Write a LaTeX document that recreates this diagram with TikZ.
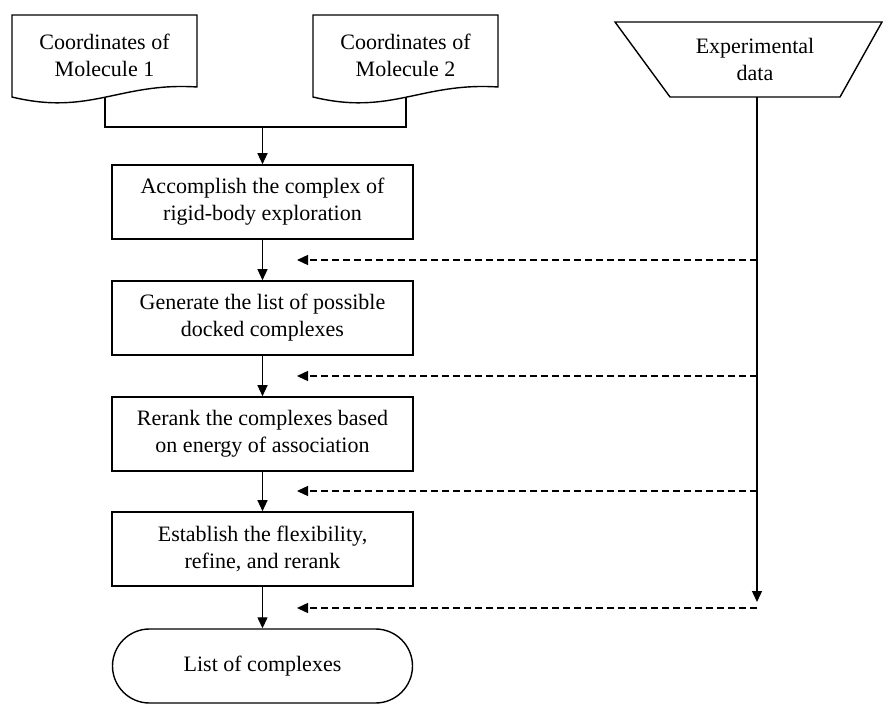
\documentclass[tikz,border=0pt]{standalone}
\usepackage{fontspec}
\setmainfont{Liberation Serif}
\usetikzlibrary{arrows.meta}
\begin{document}
\begin{tikzpicture}[x=1pt,y=-1pt,
  every node/.style={font=\fontsize{22}{27}\selectfont, align=center},
  proc/.style={draw, line width=1.6pt, minimum width=301pt, minimum height=74pt, inner sep=0pt},
  term/.style={draw, line width=1.4pt, rounded corners=37pt, minimum width=300pt, minimum height=74pt, inner sep=0pt},
  lbl/.style={inner sep=0pt},
  shp/.style={draw, line width=1.4pt},
  line/.style={line width=1.3pt},
  arr/.style={line width=1.3pt, -{Triangle[length=11pt,width=10pt]}},
  darr/.style={line width=1.3pt, dash pattern=on 7pt off 4pt, -{Triangle[length=11pt,width=10pt]}},
]
\useasboundingbox (0,0) rectangle (883,706);

% documents
\draw[shp] (12,15) -- (197,15) -- (197,87) .. controls (120,82) and (90,116) .. (12,97) -- cycle;
\node[lbl] (m1) at (104.5,55) {Coordinates of\\Molecule 1};
\draw[shp] (313,15) -- (498,15) -- (498,87) .. controls (421,82) and (391,116) .. (313,97) -- cycle;
\node[lbl] (m2) at (405.5,55) {Coordinates of\\Molecule 2};

% manual input
\draw[shp] (615,22) -- (882,22) -- (840,97) -- (670,97) -- cycle;
\node[lbl] (exp) at (755,59) {Experimental\\data};

% process boxes
\node[proc] (b1) at (262.5,202) {Accomplish the complex of\\rigid-body exploration};
\node[proc] (b2) at (262.5,318) {Generate the list of possible\\docked complexes};
\node[proc] (b3) at (262.5,434) {Rerank the complexes  based\\on energy of association};
\node[proc] (b4) at (262.5,549) {Establish the flexibility,\\refine, and rerank};
\node[term] (t) at (262.5,666) {List of complexes};

% junction of the two inputs
\coordinate (m1b) at (105,98);
\coordinate (m2b) at (406,98);
\coordinate (j) at (262.5,127);
\draw[line] (m1b) |- (j) -| (m2b);
\draw[arr] (j) -- (b1.north);

\draw[arr] (b1.south) -- (b2.north);
\draw[arr] (b2.south) -- (b3.north);
\draw[arr] (b3.south) -- (b4.north);
\draw[arr] (b4.south) -- (t.north);

% experimental data line
\coordinate (eb) at (757,97);
\coordinate (ve) at (757,602);
\draw[arr] (eb) -- (ve);

\coordinate (s1) at (757,260); \coordinate (d1) at (297,260);
\coordinate (s2) at (757,376); \coordinate (d2) at (297,376);
\coordinate (s3) at (757,491); \coordinate (d3) at (297,491);
\coordinate (s4) at (757,608); \coordinate (d4) at (297,608);
\draw[darr] (s1) -- (d1);
\draw[darr] (s2) -- (d2);
\draw[darr] (s3) -- (d3);
\draw[darr] (s4) -- (d4);
\end{tikzpicture}
\end{document}
